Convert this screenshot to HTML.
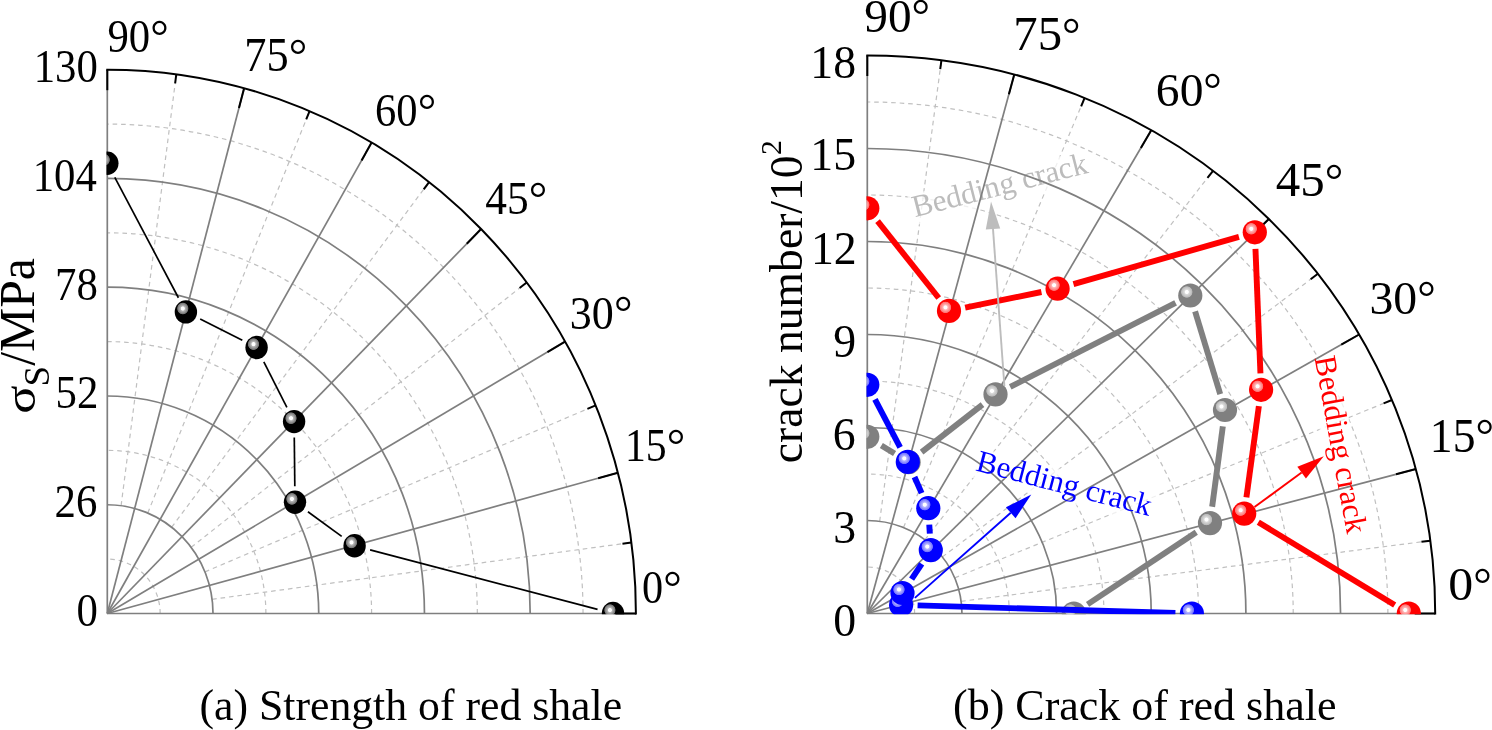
<!DOCTYPE html><html><head><meta charset="utf-8"><title>Polar plots</title><style>html,body{margin:0;padding:0;background:#fff}svg{display:block}</style></head><body><svg width="1492" height="730" viewBox="0 0 1492 730" font-family="'Liberation Serif', serif">
<defs><radialGradient id="gk" cx="0.362" cy="0.355" r="0.263" fx="0.362" fy="0.355"><stop offset="0" stop-color="#ffffff"/><stop offset="0.27" stop-color="#ffffff"/><stop offset="0.4" stop-color="#b8b8b8"/><stop offset="0.88" stop-color="#757575"/><stop offset="1.0" stop-color="#000000"/></radialGradient><radialGradient id="gr" cx="0.354" cy="0.355" r="0.248" fx="0.354" fy="0.355"><stop offset="0" stop-color="#ffffff"/><stop offset="0.27" stop-color="#ffffff"/><stop offset="0.4" stop-color="#ffb8b8"/><stop offset="0.88" stop-color="#ff7575"/><stop offset="1.0" stop-color="#ff0000"/></radialGradient><radialGradient id="gg" cx="0.354" cy="0.355" r="0.248" fx="0.354" fy="0.355"><stop offset="0" stop-color="#ffffff"/><stop offset="0.27" stop-color="#ffffff"/><stop offset="0.4" stop-color="#dbdbdb"/><stop offset="0.88" stop-color="#bababa"/><stop offset="1.0" stop-color="#808080"/></radialGradient><radialGradient id="gb" cx="0.354" cy="0.355" r="0.248" fx="0.354" fy="0.355"><stop offset="0" stop-color="#ffffff"/><stop offset="0.27" stop-color="#ffffff"/><stop offset="0.4" stop-color="#b8b8ff"/><stop offset="0.88" stop-color="#7575ff"/><stop offset="1.0" stop-color="#0000ff"/></radialGradient><clipPath id="c1"><rect x="106.5" y="0" width="800" height="614.3"/></clipPath><clipPath id="c2"><rect x="866.5" y="0" width="800" height="614.3"/></clipPath></defs>
<rect width="1492" height="730" fill="#fff"/>
<g fill="none" stroke="#c0c0c0" stroke-width="1.2" stroke-dasharray="4.6 3.9">
<path d="M160.16,613.50 A52.86,54.38 0 0 0 107.30,559.12"/>
<path d="M265.88,613.50 A158.58,163.14 0 0 0 107.30,450.36"/>
<path d="M371.60,613.50 A264.30,271.90 0 0 0 107.30,341.60"/>
<path d="M477.32,613.50 A370.02,380.66 0 0 0 107.30,232.84"/>
<path d="M583.04,613.50 A475.74,489.42 0 0 0 107.30,124.08"/>
<path d="M212.12,599.30 L631.38,542.52"/>
<path d="M204.97,571.88 L595.66,405.40"/>
<path d="M191.17,547.29 L526.67,282.46"/>
<path d="M171.66,527.21 L429.09,182.07"/>
<path d="M147.76,513.02 L309.59,111.09"/>
<path d="M121.10,505.67 L176.30,74.35"/>
</g>
<g fill="none" stroke="#7f7f7f" stroke-width="1.7">
<path d="M213.02,613.50 A105.72,108.76 0 0 0 107.30,504.74"/>
<path d="M318.74,613.50 A211.44,217.52 0 0 0 107.30,395.98"/>
<path d="M424.46,613.50 A317.16,326.28 0 0 0 107.30,287.22"/>
<path d="M530.18,613.50 A422.88,435.04 0 0 0 107.30,178.46"/>
<path d="M107.30,613.50 L635.90,613.50"/>
<path d="M107.30,613.50 L617.89,472.75"/>
<path d="M107.30,613.50 L565.08,341.60"/>
<path d="M107.30,613.50 L481.08,228.98"/>
<path d="M107.30,613.50 L371.60,142.56"/>
<path d="M107.30,613.50 L244.11,88.23"/>
<path d="M107.30,613.50 L107.30,69.70"/>
</g>
<g fill="none" stroke="#000" stroke-width="2">
<path d="M635.90,613.50 A528.60,543.80 0 0 0 107.30,69.70" stroke-linecap="square"/>
<path d="M635.90,613.50 L615.40,613.50"/>
<path d="M631.38,542.52 L622.46,543.73"/>
<path d="M617.89,472.75 L598.13,478.20"/>
<path d="M595.66,405.40 L587.38,408.92"/>
<path d="M565.08,341.60 L547.46,352.07"/>
<path d="M526.67,282.46 L519.60,288.03"/>
<path d="M481.08,228.98 L466.79,243.68"/>
<path d="M429.09,182.07 L423.71,189.29"/>
<path d="M371.60,142.56 L361.57,160.43"/>
<path d="M309.59,111.09 L306.22,119.44"/>
<path d="M244.11,88.23 L238.94,108.07"/>
<path d="M176.30,74.35 L175.15,83.28"/>
<path d="M107.30,69.70 L107.30,90.20"/>
</g>
<g clip-path="url(#c1)">
<g stroke="#000" stroke-width="1.7" fill="none">
<path d="M114.78,177.35 L178.42,297.75"/>
<path d="M200.19,319.10 L242.31,340.30"/>
<path d="M263.82,361.78 L286.88,407.32"/>
<path d="M294.28,437.60 L294.82,486.30"/>
<path d="M307.92,511.73 L341.68,536.37"/>
<path d="M370.08,549.86 L597.52,609.44"/>
</g>
<ellipse cx="613.00" cy="613.50" rx="11.2" ry="11.7" fill="url(#gk)"/>
<ellipse cx="354.60" cy="545.80" rx="11.2" ry="11.7" fill="url(#gk)"/>
<ellipse cx="295.00" cy="502.30" rx="11.2" ry="11.7" fill="url(#gk)"/>
<ellipse cx="294.10" cy="421.60" rx="11.2" ry="11.7" fill="url(#gk)"/>
<ellipse cx="256.60" cy="347.50" rx="11.2" ry="11.7" fill="url(#gk)"/>
<ellipse cx="185.90" cy="311.90" rx="11.2" ry="11.7" fill="url(#gk)"/>
<ellipse cx="107.30" cy="163.20" rx="11.2" ry="11.7" fill="url(#gk)"/>
</g>
<g transform="translate(76.45,625.99) scale(0.9950,1.0850)"><text font-size="43" >0</text></g>
<g transform="translate(54.56,517.23) scale(0.9950,1.0850)"><text font-size="43" >26</text></g>
<g transform="translate(55.55,408.47) scale(0.9950,1.0850)"><text font-size="43" >52</text></g>
<g transform="translate(55.06,299.71) scale(0.9950,1.0850)"><text font-size="43" >78</text></g>
<g transform="translate(32.67,190.95) scale(0.9950,1.0850)"><text font-size="43" >104</text></g>
<g transform="translate(33.66,82.19) scale(0.9950,1.0850)"><text font-size="43" >130</text></g>
<g transform="translate(107.41,52.16) scale(0.9937,1.0862)"><text font-size="43" >90</text></g>
<g transform="translate(150.25,51.65) scale(1.0769,1.0615)"><text font-size="43" >°</text></g>
<g transform="translate(244.36,71.35) scale(1.0312,1.1053)"><text font-size="43" >75</text></g>
<g transform="translate(288.75,70.85) scale(1.0769,1.0615)"><text font-size="43" >°</text></g>
<g transform="translate(374.97,126.26) scale(0.9899,1.0862)"><text font-size="43" >60</text></g>
<g transform="translate(417.65,125.75) scale(1.0769,1.0615)"><text font-size="43" >°</text></g>
<g transform="translate(485.24,214.25) scale(1.0099,1.0957)"><text font-size="43" >45</text></g>
<g transform="translate(528.75,213.75) scale(1.0769,1.0615)"><text font-size="43" >°</text></g>
<g transform="translate(569.85,328.66) scale(1.0242,1.0862)"><text font-size="43" >30</text></g>
<g transform="translate(613.95,328.15) scale(1.0769,1.0615)"><text font-size="43" >°</text></g>
<g transform="translate(624.96,461.05) scale(0.9707,1.0957)"><text font-size="43" >15</text></g>
<g transform="translate(666.85,460.55) scale(1.0769,1.0615)"><text font-size="43" >°</text></g>
<g transform="translate(642.08,603.36) scale(0.9833,1.0862)"><text font-size="43" >0</text></g>
<g transform="translate(663.35,602.85) scale(1.0769,1.0615)"><text font-size="43" >°</text></g>
<g transform="translate(34.63,413.81) scale(0.9440,1.0925)"><text font-size="48" transform="rotate(-90)">σ</text></g>
<g transform="translate(48.84,386.42) scale(1.0545,1.1214)"><text font-size="33" transform="rotate(-90)">S</text></g>
<g transform="translate(34.47,365.80) scale(1.0605,1.0354)"><text font-size="48" transform="rotate(-90)">/MPa</text></g>
<g transform="translate(199.47,720.18) scale(1.0175,1.0400)"><text font-size="43" >(a) Strength of red shale</text></g>
<g fill="none" stroke="#c0c0c0" stroke-width="1.2" stroke-dasharray="4.6 3.9">
<path d="M914.62,613.50 A47.32,46.50 0 0 0 867.30,567.00"/>
<path d="M1009.27,613.50 A141.97,139.50 0 0 0 867.30,474.00"/>
<path d="M1103.92,613.50 A236.62,232.50 0 0 0 867.30,381.00"/>
<path d="M1198.58,613.50 A331.28,325.50 0 0 0 867.30,288.00"/>
<path d="M1293.22,613.50 A425.92,418.50 0 0 0 867.30,195.00"/>
<path d="M1387.88,613.50 A520.57,511.50 0 0 0 867.30,102.00"/>
<path d="M961.14,601.36 L1430.34,540.67"/>
<path d="M954.75,577.91 L1391.97,399.96"/>
<path d="M942.39,556.89 L1317.85,273.81"/>
<path d="M924.92,539.72 L1213.02,170.81"/>
<path d="M903.52,527.58 L1084.63,97.98"/>
<path d="M879.65,521.30 L941.43,60.27"/>
</g>
<rect x="-2" y="-23" width="184" height="31" fill="#fff" fill-opacity="0.75" transform="translate(914.9,217.3) rotate(-14.4)"/>
<rect x="-2" y="-23" width="184" height="31" fill="#fff" fill-opacity="0.75" transform="translate(974.8,470.3) rotate(14.7)"/>
<rect x="-2" y="-23" width="184" height="31" fill="#fff" fill-opacity="0.75" transform="translate(1314.5,357.8) rotate(79.6)"/>
<text font-size="31" fill="#bcbcbc" transform="translate(914.9,217.3) rotate(-14.4)">Bedding crack</text>
<g fill="none" stroke="#7f7f7f" stroke-width="1.7">
<path d="M961.95,613.50 A94.65,93.00 0 0 0 867.30,520.50"/>
<path d="M1056.60,613.50 A189.30,186.00 0 0 0 867.30,427.50"/>
<path d="M1151.25,613.50 A283.95,279.00 0 0 0 867.30,334.50"/>
<path d="M1245.90,613.50 A378.60,372.00 0 0 0 867.30,241.50"/>
<path d="M1340.55,613.50 A473.25,465.00 0 0 0 867.30,148.50"/>
<path d="M867.30,613.50 L1435.20,613.50"/>
<path d="M867.30,613.50 L1415.85,469.08"/>
<path d="M867.30,613.50 L1359.12,334.50"/>
<path d="M867.30,613.50 L1268.87,218.93"/>
<path d="M867.30,613.50 L1151.25,130.26"/>
<path d="M867.30,613.50 L1014.28,74.51"/>
<path d="M867.30,613.50 L867.30,55.50"/>
</g>
<g fill="none" stroke="#000" stroke-width="2">
<path d="M1435.20,613.50 A567.90,558.00 0 0 0 867.30,55.50" stroke-linecap="square"/>
<path d="M1435.20,613.50 L1414.70,613.50"/>
<path d="M1430.34,540.67 L1421.42,541.82"/>
<path d="M1415.85,469.08 L1396.02,474.30"/>
<path d="M1391.97,399.96 L1383.64,403.36"/>
<path d="M1359.12,334.50 L1341.29,344.62"/>
<path d="M1317.85,273.81 L1310.66,279.23"/>
<path d="M1268.87,218.93 L1254.24,233.30"/>
<path d="M1213.02,170.81 L1207.48,177.90"/>
<path d="M1151.25,130.26 L1140.86,147.93"/>
<path d="M1084.63,97.98 L1081.13,106.27"/>
<path d="M1014.28,74.51 L1008.89,94.29"/>
<path d="M941.43,60.27 L940.23,69.19"/>
<path d="M867.30,55.50 L867.30,76.00"/>
</g>
<g clip-path="url(#c2)">
<g stroke="#808080" stroke-width="5.9" fill="none">
<path d="M881.35,445.44 L894.55,453.56"/>
<path d="M921.61,452.05 L982.49,404.55"/>
<path d="M1010.21,386.93 L1175.59,302.97"/>
<path d="M1195.09,311.29 L1220.21,394.21"/>
<path d="M1222.83,426.36 L1212.17,506.74"/>
<path d="M1196.25,532.22 L1087.55,604.38"/>
</g>
<ellipse cx="1073.80" cy="613.50" rx="12.1" ry="12.1" fill="url(#gg)"/>
<ellipse cx="1210.00" cy="523.10" rx="12.1" ry="12.1" fill="url(#gg)"/>
<ellipse cx="1225.00" cy="410.00" rx="12.1" ry="12.1" fill="url(#gg)"/>
<ellipse cx="1190.30" cy="295.50" rx="12.1" ry="12.1" fill="url(#gg)"/>
<ellipse cx="995.50" cy="394.40" rx="12.1" ry="12.1" fill="url(#gg)"/>
<ellipse cx="908.60" cy="462.20" rx="12.1" ry="12.1" fill="url(#gg)"/>
<ellipse cx="867.30" cy="436.80" rx="12.1" ry="12.1" fill="url(#gg)"/>
<g stroke="#ff0000" stroke-width="5.9" fill="none">
<path d="M877.58,221.21 L938.72,297.99"/>
<path d="M965.17,307.60 L1041.43,292.00"/>
<path d="M1073.46,284.16 L1238.94,236.84"/>
<path d="M1255.46,248.79 L1260.44,373.31"/>
<path d="M1258.87,406.15 L1246.43,497.35"/>
<path d="M1258.31,522.25 L1394.69,604.95"/>
</g>
<ellipse cx="1408.80" cy="613.50" rx="12.1" ry="12.1" fill="url(#gr)"/>
<ellipse cx="1244.20" cy="513.70" rx="12.1" ry="12.1" fill="url(#gr)"/>
<ellipse cx="1261.10" cy="389.80" rx="12.1" ry="12.1" fill="url(#gr)"/>
<ellipse cx="1254.80" cy="232.30" rx="12.1" ry="12.1" fill="url(#gr)"/>
<ellipse cx="1057.60" cy="288.70" rx="12.1" ry="12.1" fill="url(#gr)"/>
<ellipse cx="949.00" cy="310.90" rx="12.1" ry="12.1" fill="url(#gr)"/>
<ellipse cx="867.30" cy="208.30" rx="12.1" ry="12.1" fill="url(#gr)"/>
<g stroke="#0000ff" stroke-width="5.9" fill="none">
<path d="M874.97,399.41 L900.13,447.29"/>
<path d="M914.48,476.99 L921.62,493.11"/>
<path d="M929.28,524.67 L929.82,533.63"/>
<path d="M921.71,563.87 L911.59,579.23"/>
<path d="M917.59,605.39 L1175.41,613.01"/>
</g>
<ellipse cx="1191.90" cy="613.50" rx="12.1" ry="12.1" fill="url(#gb)"/>
<ellipse cx="901.10" cy="604.90" rx="12.1" ry="12.1" fill="url(#gb)"/>
<ellipse cx="902.50" cy="593.00" rx="12.1" ry="12.1" fill="url(#gb)"/>
<ellipse cx="930.80" cy="550.10" rx="12.1" ry="12.1" fill="url(#gb)"/>
<ellipse cx="928.30" cy="508.20" rx="12.1" ry="12.1" fill="url(#gb)"/>
<ellipse cx="907.80" cy="461.90" rx="12.1" ry="12.1" fill="url(#gb)"/>
<ellipse cx="867.30" cy="384.80" rx="12.1" ry="12.1" fill="url(#gb)"/>
</g>
<g transform="translate(833.27,635.50) scale(1.0650,1.1000)"><text font-size="43" >0</text></g>
<g transform="translate(833.27,542.50) scale(1.0650,1.1000)"><text font-size="43" >3</text></g>
<g transform="translate(832.73,449.50) scale(1.0650,1.1000)"><text font-size="43" >6</text></g>
<g transform="translate(833.27,356.50) scale(1.0650,1.1000)"><text font-size="43" >9</text></g>
<g transform="translate(810.90,263.77) scale(1.0650,1.1000)"><text font-size="43" >12</text></g>
<g transform="translate(810.37,170.36) scale(1.0650,1.1000)"><text font-size="43" >15</text></g>
<g transform="translate(810.37,77.50) scale(1.0650,1.1000)"><text font-size="43" >18</text></g>
<g transform="translate(864.35,32.05) scale(1.0994,1.1000)"><text font-size="43" >90</text></g>
<g transform="translate(911.55,31.15) scale(1.0769,1.0615)"><text font-size="43" >°</text></g>
<g transform="translate(1013.28,50.44) scale(1.1351,1.1193)"><text font-size="43" >75</text></g>
<g transform="translate(1061.95,49.55) scale(1.0769,1.0615)"><text font-size="43" >°</text></g>
<g transform="translate(1155.86,106.35) scale(1.1063,1.1000)"><text font-size="43" >60</text></g>
<g transform="translate(1203.35,105.45) scale(1.0769,1.0615)"><text font-size="43" >°</text></g>
<g transform="translate(1275.85,196.45) scale(1.1383,1.1096)"><text font-size="43" >45</text></g>
<g transform="translate(1324.65,195.55) scale(1.0769,1.0615)"><text font-size="43" >°</text></g>
<g transform="translate(1369.48,314.05) scale(1.1108,1.1000)"><text font-size="43" >30</text></g>
<g transform="translate(1417.15,313.15) scale(1.0769,1.0615)"><text font-size="43" >°</text></g>
<g transform="translate(1429.82,452.25) scale(1.0613,1.1096)"><text font-size="43" >15</text></g>
<g transform="translate(1475.45,451.35) scale(1.0769,1.0615)"><text font-size="43" >°</text></g>
<g transform="translate(1448.37,600.45) scale(1.1611,1.1000)"><text font-size="43" >0</text></g>
<g transform="translate(1473.15,599.55) scale(1.0769,1.0615)"><text font-size="43" >°</text></g>
<g transform="translate(801.51,463.16) scale(0.9896,0.9508)"><text font-size="48" transform="rotate(-90)">crack number/10</text></g>
<g transform="translate(780.50,155.04) scale(0.9772,0.9917)"><text font-size="30" transform="rotate(-90)">2</text></g>
<g transform="translate(953.05,720.44) scale(1.0230,1.0400)"><text font-size="43" >(b) Crack of red shale</text></g>
<path d="M1004.40,386.00 L992.99,228.93" stroke="#bdbdbd" stroke-width="1.9" fill="none"/>
<path d="M991.00,201.50 L1000.22,228.40 L985.76,229.45 Z" fill="#bdbdbd"/>
<path d="M914.90,597.90 L1010.74,512.76" stroke="#0000ff" stroke-width="1.9" fill="none"/>
<path d="M1031.30,494.50 L1015.56,518.18 L1005.93,507.34 Z" fill="#0000ff"/>
<path d="M1254.50,507.10 L1301.62,472.56" stroke="#ff0000" stroke-width="1.9" fill="none"/>
<path d="M1323.80,456.30 L1305.91,478.41 L1297.33,466.71 Z" fill="#ff0000"/>
<text font-size="31" fill="#0000ff" transform="translate(974.8,470.3) rotate(14.7)">Bedding crack</text>
<text font-size="31" fill="#ff0000" transform="translate(1314.5,357.8) rotate(79.6)">Bedding crack</text>
</svg></body></html>
